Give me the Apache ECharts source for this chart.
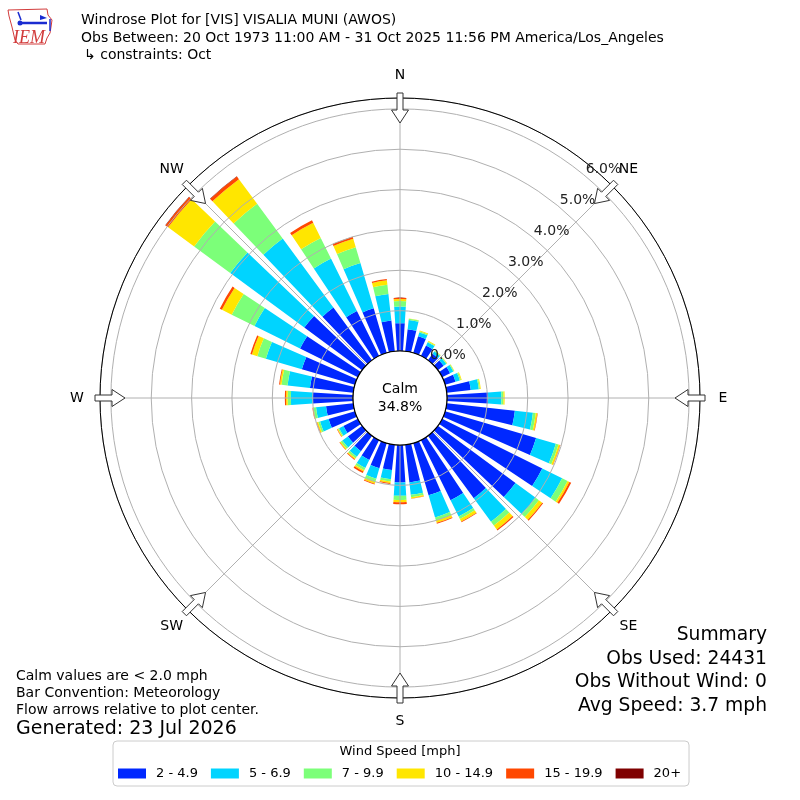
<!DOCTYPE html>
<html><head><meta charset="utf-8">
<script src="https://cdn.jsdelivr.net/npm/echarts@6/dist/echarts.min.js"></script>
<style>html,body{margin:0;padding:0;background:#fff}#c{width:800px;height:800px}</style>
</head><body><div id="c"></div>
<script>
// ---- data (percent of observations) ----
const directions = ['0','10','20','30','40','50','60','70','80','90','100','110','120','130','140','150','160','170',
  '180','190','200','210','220','230','240','250','260','270','280','290','300','310','320','330','340','350'];
const speedBins = ['2 - 4.9','5 - 6.9','7 - 9.9','10 - 14.9','15 - 19.9','20+'];
const binColors = ['#0028ff','#00d4ff','#7cff79','#ffe600','#ff4800','#7f0000'];
const s2to5   = [0.69,0.55,0.43,0.29,0.20,0.18,0.22,0.27,0.60,1.02,1.70,2.35,2.77,2.39,1.92,1.66,1.35,0.94,
                 0.93,0.63,0.65,0.55,0.47,0.44,0.40,0.68,0.68,1.00,1.08,1.37,1.60,1.78,1.62,1.24,1.15,0.77];
const s5to7   = [0.41,0.23,0.10,0.09,0.07,0.08,0.09,0.11,0.20,0.33,0.45,0.51,0.55,0.62,0.72,0.45,0.57,0.31,
                 0.33,0.23,0.27,0.22,0.17,0.17,0.12,0.22,0.25,0.54,0.56,0.93,1.26,2.28,2.12,1.45,1.17,0.66];
const s7to10  = [0.14,0.03,0.03,0.02,0.02,0.02,0.02,0.03,0.03,0.05,0.07,0.07,0.15,0.10,0.12,0.07,0.08,0.06,
                 0.10,0.06,0.08,0.06,0.05,0.05,0.03,0.05,0.06,0.08,0.15,0.22,0.63,1.11,1.07,0.57,0.41,0.23];
const s10to15 = [0.05,0.01,0.02,0.02,0.01,0.01,0.01,0.02,0.02,0.03,0.04,0.04,0.05,0.10,0.12,0.07,0.06,0.03,
                 0.06,0.04,0.05,0.04,0.03,0.03,0.02,0.03,0.02,0.04,0.04,0.14,0.27,0.80,0.76,0.42,0.22,0.11];
const s15to20 = [0.03,0.00,0.00,0.00,0.00,0.00,0.00,0.00,0.00,0.00,0.01,0.01,0.05,0.03,0.03,0.02,0.02,0.01,
                 0.05,0.02,0.02,0.04,0.02,0.01,0.01,0.01,0.01,0.03,0.02,0.04,0.06,0.08,0.08,0.07,0.05,0.03];
const s20plus = [0,0,0,0,0,0,0,0,0,0,0,0,0,0,0,0,0,0,
                 0,0,0,0,0,0,0,0,0,0,0,0,0,0.01,0.01,0,0,0];
const compassLabels = ['N','NE','E','SE','S','SW','W','NW'];
const calmPct = '34.8%';
const titleLines = ['Windrose Plot for [VIS] VISALIA MUNI (AWOS)',
  'Obs Between: 20 Oct 1973 11:00 AM - 31 Oct 2025 11:56 PM America/Los_Angeles',
  '\u21B3 constraints: Oct'];
const noteLines = ['Calm values are < 2.0 mph','Bar Convention: Meteorology','Flow arrows relative to plot center.'];
const generated = 'Generated: 23 Jul 2026';
const summaryLines = ['Summary','Obs Used: 24431','Obs Without Wind: 0','Avg Speed: 3.7 mph'];

// ---- layout ----
const CX = 400, CY = 398, R_IN = 47, R_OUT = 300, R_MAX = 6.27;
const FONT = '"DejaVu Sans", sans-serif';

function P(deg, r, w) {
  const t = deg * Math.PI / 180;
  return [CX + r * Math.sin(t) + w * Math.cos(t), CY - r * Math.cos(t) + w * Math.sin(t)];
}
function txt(text, x, y, size, align, extra) {
  return Object.assign({type:'text', z:21, silent:true, style:{text:text, x:x, y:y,
    font: size + 'px ' + FONT, fill:'#000', align:align, verticalAlign:'middle',
    textAlign:align, textVerticalAlign:'middle'}}, extra || {});
}
const graphics = [];
// flow arrows + compass labels at the 8 compass points
for (let k = 0; k < 8; k++) {
  const d = k * 45;
  graphics.push({type:'polygon', z:20, silent:true,
    shape:{points:[P(d,305,-3),P(d,288,-3),P(d,288,-8.5),P(d,275,0),P(d,288,8.5),P(d,288,3),P(d,305,3)]},
    style:{fill:'#fff', stroke:'#333', lineWidth:1}});
  const lp = P(d, 323, 0);
  graphics.push(txt(compassLabels[k], lp[0], lp[1], 14, 'center'));
}
// calm circle
graphics.push({type:'circle', z:20, silent:true, shape:{cx:CX, cy:CY, r:R_IN},
  style:{fill:'#fff', stroke:'#000', lineWidth:1.2}});
graphics.push(txt('Calm', CX, CY - 9, 14, 'center'));
graphics.push(txt(calmPct, CX, CY + 9, 14, 'center'));
titleLines.forEach((t, i) => graphics.push(txt(t, i === 2 ? 84 : 81, 20.5 + i * 17.5, 14, 'left')));
noteLines.forEach((t, i) => graphics.push(txt(t, 16, 676.5 + i * 17, 14, 'left')));
graphics.push(txt(generated, 16, 729.5, 19, 'left'));
summaryLines.forEach((t, i) => graphics.push(txt(t, 767, 635.5 + i * 23.5, 18.7, 'right')));
graphics.push(txt('Wind Speed [mph]', 400, 752, 13, 'center'));
// IEM logo (approximation)
graphics.push({type:'polygon', z:21, silent:true,
  shape:{points:[[8,10],[47,9],[48,15],[52,20],[51,27],[50,33],[47,38],[45,44],[18,44],[15,40],[12,27],[9,16]]},
  style:{fill:'#fff', stroke:'#d23c3c', lineWidth:1}});
graphics.push({type:'line', z:22, silent:true, shape:{x1:22,y1:23,x2:47,y2:23}, style:{stroke:'#1a2bd0', lineWidth:2.5}});
graphics.push({type:'circle', z:22, silent:true, shape:{cx:20,cy:23,r:2.5}, style:{fill:'#1a2bd0'}});
graphics.push({type:'line', z:22, silent:true, shape:{x1:18,y1:12,x2:21,y2:20}, style:{stroke:'#1a2bd0', lineWidth:1.5}});
graphics.push({type:'polygon', z:22, silent:true, shape:{points:[[40,15],[47,18],[40,20]]}, style:{fill:'#1a2bd0'}});
graphics.push({type:'line', z:22, silent:true, shape:{x1:50,y1:19,x2:50,y2:31}, style:{stroke:'#1a2bd0', lineWidth:1.5}});
graphics.push({type:'text', z:22, silent:true, style:{text:'IEM', x:13, y:38, font:'italic 18px "Liberation Serif", serif',
  fill:'#d23c3c', align:'left', verticalAlign:'middle', textAlign:'left', textVerticalAlign:'middle'}});

const seriesData = [s2to5, s5to7, s7to10, s10to15, s15to20, s20plus];
const chart = echarts.init(document.getElementById('c'), null, {renderer:'canvas'});
chart.setOption({
  animation: false,
  backgroundColor: '#fff',
  polar: [
    {center:[CX, CY], radius:[R_IN, R_OUT]},
    {center:[CX, CY], radius:[R_IN, R_OUT]},
    {center:[CX, CY], radius:[R_IN + 16.8, R_OUT + 16.8]}
  ],
  angleAxis: [
    {polarIndex:0, type:'category', data:directions, startAngle:95, clockwise:true, boundaryGap:true,
      axisLine:{show:false}, axisTick:{show:false}, axisLabel:{show:false}, splitLine:{show:false}, splitArea:{show:false}},
    {polarIndex:1, type:'value', min:0, max:360, interval:45, startAngle:45, clockwise:true, z:5,
      axisLine:{show:true, lineStyle:{color:'#000', width:1}}, axisTick:{show:false}, axisLabel:{show:false},
      splitLine:{show:true, lineStyle:{color:'#b0b0b0', width:1}}, splitArea:{show:false}},
    {polarIndex:2, type:'value', min:0, max:360, startAngle:50, clockwise:true,
      axisLine:{show:false}, axisTick:{show:false}, axisLabel:{show:false}, splitLine:{show:false}, splitArea:{show:false}}
  ],
  radiusAxis: [
    {polarIndex:0, type:'value', min:0, max:R_MAX, axisLine:{show:false}, axisTick:{show:false},
      axisLabel:{show:false}, splitLine:{show:false}},
    {polarIndex:1, type:'value', min:0, max:R_MAX, interval:1, z:5, axisLine:{show:false}, axisTick:{show:false},
      axisLabel:{show:false}, splitLine:{show:true, lineStyle:{color:'#b0b0b0', width:1}}, splitArea:{show:false}},
    {polarIndex:2, type:'value', min:0, max:R_MAX, interval:1, z:6, axisLine:{show:false}, axisTick:{show:false},
      splitLine:{show:false}, splitArea:{show:false},
      axisLabel:{show:true, margin:-9, align:'center', verticalAlign:'middle', fontSize:14, fontFamily:FONT, color:'#222',
        formatter: v => Number.isInteger(v) ? v.toFixed(1) + '%' : ''}}
  ],
  legend: {data: speedBins, left:113, top:741, orient:'horizontal', icon:'rect', itemWidth:28, itemHeight:10,
    itemGap:13, padding:[26,8,6,5], borderColor:'#cccccc', borderWidth:1, borderRadius:4, backgroundColor:'#fff',
    selectedMode:false, textStyle:{fontSize:13, fontFamily:FONT, color:'#000', padding:[0,0,0,5]}},
  series: seriesData.map((d, i) => ({
    type:'bar', name:speedBins[i], data:d, coordinateSystem:'polar', polarIndex:0, stack:'wind',
    barCategoryGap:'27%', itemStyle:{color:binColors[i]}, z:2, silent:true
  })),
  graphic: graphics
});
</script></body></html>
